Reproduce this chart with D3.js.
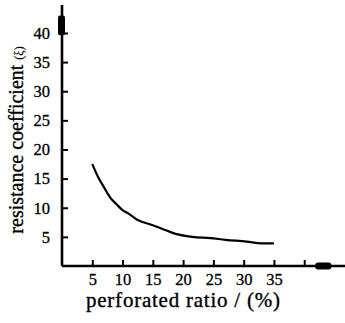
<!DOCTYPE html>
<html><head><meta charset="utf-8">
<script src="https://cdn.jsdelivr.net/npm/d3@7"></script>
<style>
html,body{margin:0;padding:0;background:#fff;}
svg{display:block;}
text{font-family:"Liberation Serif","Times New Roman",serif;fill:#000;}
</style></head>
<body>
<svg id="c" width="345" height="323"></svg>
<script>
const ratio = [5, 6, 7, 8, 9, 10, 11, 12.5, 15, 16.5, 18.5, 21.5, 24.5, 27, 30.5, 33, 35];
const xi = [17.5, 15.2, 13.4, 11.7, 10.6, 9.6, 9.0, 7.9, 7.0, 6.4, 5.6, 5.0, 4.8, 4.5, 4.2, 3.9, 3.9];
const xTicks = [5, 10, 15, 20, 25, 30, 35, 40];
const xTickLabels = ["5", "10", "15", "20", "25", "30", "35", ""];
const yTicks = [5, 10, 15, 20, 25, 30, 35, 40];
const yTickLabels = ["5", "10", "15", "20", "25", "30", "35", "40"];

const svg = d3.select("#c");
const x = d3.scaleLinear().domain([0, 46.9]).range([62, 346]);
const y = d3.scaleLinear().domain([0, 44.8]).range([266, 5]);

// axes
const gx = svg.append("g").attr("transform", `translate(0,${y(0)})`)
  .call(d3.axisBottom(x).tickValues(xTicks).tickSizeInner(-6).tickSizeOuter(0).tickPadding(7)
    .tickFormat((d, i) => xTickLabels[i]));
const gy = svg.append("g").attr("transform", `translate(${x(0)},0)`)
  .call(d3.axisLeft(y).tickValues(yTicks).tickSizeInner(-6).tickSizeOuter(0).tickPadding(12)
    .tickFormat((d, i) => yTickLabels[i]));
[gx, gy].forEach(g => {
  g.select(".domain").attr("stroke", "#000").attr("stroke-width", 2.6);
  g.selectAll(".tick line").attr("stroke", "#000").attr("stroke-width", 2);
  g.selectAll("text").attr("font-size", 16.5).attr("font-family", "Liberation Serif, serif")
    .attr("fill", "#000").attr("stroke", "#000").attr("stroke-width", 0.3);
});
gx.select(".domain").attr("d", `M${x(0)},0H${x(46.9)}`);
gy.select(".domain").attr("d", `M0,${y(0)}V${y(44.8)}`);

// thick blobs on axes
svg.append("rect").attr("x", x(0) - 4).attr("width", 7)
  .attr("y", y(43)).attr("height", y(39.6) - y(43)).attr("fill", "#000").attr("rx", 2);
svg.append("rect").attr("x", x(41.8)).attr("width", x(44.5) - x(41.8))
  .attr("y", y(0) - 3.5).attr("height", 7).attr("fill", "#000").attr("rx", 3);

// curve
const line = d3.line().x((d, i) => x(ratio[i])).y(d => y(d)).curve(d3.curveMonotoneX);
svg.append("path").datum(xi).attr("d", line)
  .attr("fill", "none").attr("stroke", "#000").attr("stroke-width", 2.2);

// titles
svg.append("text").attr("x", 183).attr("y", 307)
  .attr("text-anchor", "middle").attr("font-size", 21)
  .attr("stroke", "#000").attr("stroke-width", 0.35)
  .attr("textLength", 194).attr("lengthAdjust", "spacing")
  .text("perforated ratio / (%)");
const yt = svg.append("text").attr("transform", "translate(23,140) rotate(-90)")
  .attr("text-anchor", "middle").attr("font-size", 20)
  .attr("stroke", "#000").attr("stroke-width", 0.35);
yt.append("tspan").text("resistance coefficient ");
yt.append("tspan").attr("font-size", 12).attr("stroke-width", 0.15).text("(ξ)");
</script>
</body></html>
